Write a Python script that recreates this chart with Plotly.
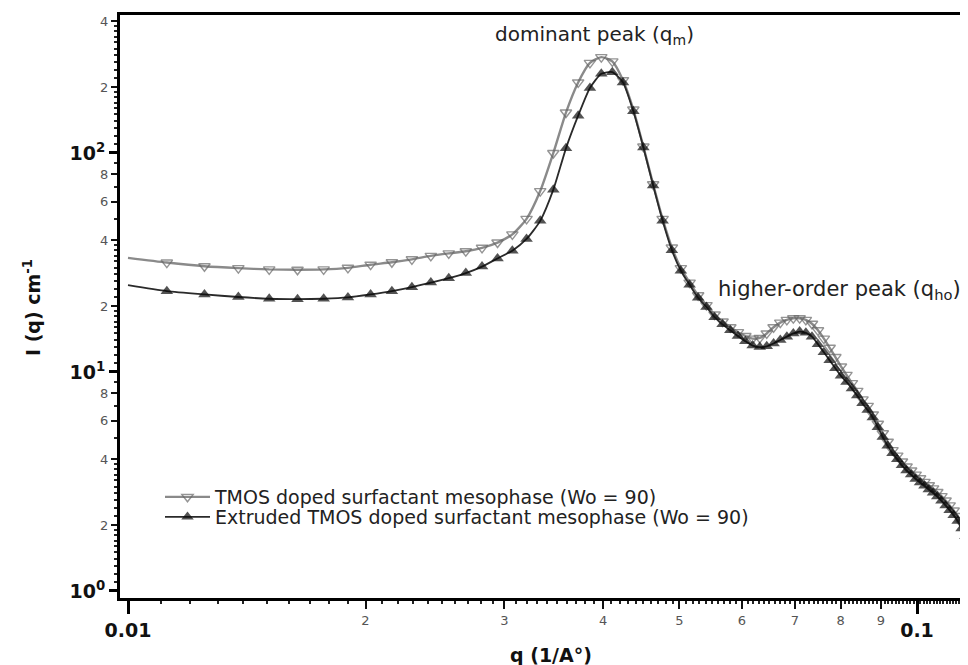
import plotly.graph_objects as go

# ---------------- data ----------------
q = [0.0100,
     0.0112, 0.0125, 0.0138, 0.0151, 0.0164, 0.0177, 0.0190, 0.0203, 0.0216, 0.0229,
     0.0242, 0.0255, 0.0268, 0.0281, 0.0294, 0.0307, 0.0320, 0.0333, 0.0346, 0.0359,
     0.0372, 0.0385, 0.0398, 0.0411, 0.0424, 0.0437, 0.0450, 0.0463, 0.0476, 0.0489,
     0.0502, 0.0515, 0.0528, 0.0541, 0.0554, 0.0567, 0.0580, 0.0593, 0.0606, 0.0619,
     0.0632, 0.0645, 0.0658, 0.0671, 0.0684, 0.0697, 0.0710, 0.0723, 0.0736, 0.0749,
     0.0762, 0.0775, 0.0788, 0.0801, 0.0814, 0.0827, 0.0840, 0.0853, 0.0866, 0.0879,
     0.0892, 0.0905, 0.0918, 0.0931, 0.0944, 0.0957, 0.0970, 0.0983, 0.0996, 0.1009,
     0.1022, 0.1035, 0.1048, 0.1061, 0.1074, 0.1087, 0.1100, 0.1113, 0.1126, 0.1139,
     0.1152]

I_tmos = [33.2,
          31.6, 30.4, 29.8, 29.4, 29.3, 29.4, 29.9, 30.9, 31.7, 32.7,
          33.9, 34.8, 35.6, 36.9, 39.0, 42.5, 50.0, 67.0, 100, 153,
          210, 258, 274, 262, 215, 158, 107, 72, 50, 37,
          29.8, 25.6, 22.4, 20.2, 18.3, 17.0, 16.0, 15.2, 14.6, 14.2,
          14.3, 15.0, 16.0, 16.8, 17.3, 17.6, 17.6, 17.3, 16.6, 15.5,
          14.2, 12.9, 11.7, 10.6, 9.7, 8.9, 8.2, 7.5, 7.0, 6.4,
          5.8, 5.25, 4.8, 4.4, 4.15, 3.9, 3.7, 3.55, 3.4, 3.27,
          3.15, 3.04, 2.94, 2.83, 2.71, 2.59, 2.46, 2.33, 2.2, 2.04,
          1.9]

I_extruded = [24.9,
              23.4, 22.6, 22.0, 21.6, 21.5, 21.6, 21.9, 22.6, 23.4, 24.4,
              25.6, 26.8, 28.3, 30.3, 33.0, 35.8, 40.5, 49.0, 68.0, 105,
              148, 198, 230, 234, 210, 155, 106, 71, 49, 36,
              29.0, 25.0, 21.8, 19.8, 17.8, 16.5, 15.5, 14.6, 13.8, 13.2,
              13.0, 13.1, 13.5, 14.0, 14.5, 15.0, 15.3, 15.1, 14.5, 13.4,
              12.3, 11.3, 10.4, 9.6, 9.0, 8.4, 7.8, 7.2, 6.7, 6.2,
              5.6, 5.05, 4.6, 4.25, 4.0, 3.75, 3.55, 3.4, 3.25, 3.13,
              3.02, 2.91, 2.81, 2.7, 2.58, 2.46, 2.34, 2.22, 2.09, 1.93,
              1.78]

series_names = ["TMOS doped surfactant mesophase (Wo = 90)",
                "Extruded TMOS doped surfactant mesophase (Wo = 90)"]

x_digit_ticks = [0.02, 0.03, 0.04, 0.05, 0.06, 0.07, 0.08, 0.09]
x_digit_labels = ["2", "3", "4", "5", "6", "7", "8", "9"]
x_decade_ticks = [0.01, 0.1]
x_decade_labels = ["0.01", "0.1"]

y_digit_ticks = [2, 4, 6, 8, 20, 40, 60, 80, 200, 400]
y_digit_labels = ["2", "4", "6", "8", "2", "4", "6", "8", "2", "4"]
y_decade_ticks = [1, 10, 100]
y_decade_labels = ["10<sup>0</sup>", "10<sup>1</sup>", "10<sup>2</sup>"]

FONT = "DejaVu Sans, Verdana, sans-serif"

# page (browser) pixel -> paper coordinates; the page body adds an 8px offset
PLOT_L, PLOT_R, PLOT_T, PLOT_B = 120, 976, 15, 598
def px(xp):
    return (xp - PLOT_L) / (PLOT_R - PLOT_L)
def py(yp):
    return (PLOT_B - yp) / (PLOT_B - PLOT_T)

n = len(q)
marker_sizes_open = [0] + [10] * (n - 1)
marker_sizes_fill = [0] + [11] * (n - 1)

x_minor = [k / 1000 for k in range(10, 120)]
y_minor = []
for dec in (1, 10, 100):
    y_minor += [dec * (1 + k / 10) for k in range(1, 10)]
    y_minor += [dec * (2 + k / 5) for k in range(1, 10)]
    y_minor += [dec * v for v in (5, 7, 9)]

fig = go.Figure()

fig.add_trace(go.Scatter(
    x=q, y=I_tmos, name=series_names[0], mode="lines+markers", legend="legend",
    line=dict(color="#8a8a8a", width=2.4, shape="spline", smoothing=0.6),
    marker=dict(symbol="triangle-down-open", size=marker_sizes_open,
                color="#666666", line=dict(width=1.4, color="#666666")),
))
fig.add_trace(go.Scatter(
    x=q, y=I_extruded, name=series_names[1], mode="lines+markers", legend="legend2",
    line=dict(color="#2a2a2a", width=1.8, shape="spline", smoothing=0.6),
    marker=dict(symbol="triangle-up", size=marker_sizes_fill, color="#0a0a0a",
                line=dict(width=0)),
))
# invisible helper traces for the decade tick axes
fig.add_trace(go.Scatter(x=[0.05], y=[10], xaxis="x2", yaxis="y", mode="markers",
                         marker=dict(opacity=0), showlegend=False, hoverinfo="skip"))
fig.add_trace(go.Scatter(x=[0.05], y=[10], xaxis="x", yaxis="y2", mode="markers",
                         marker=dict(opacity=0), showlegend=False, hoverinfo="skip"))

xrange = [-2.01014, -0.92522]
yrange = [-0.032, 2.6301]
fig.update_layout(
    width=968, height=665,
    margin=dict(l=112, r=0, t=7, b=75, autoexpand=False),
    paper_bgcolor="white", plot_bgcolor="white",
    font=dict(family=FONT, color="#111"),
    showlegend=True,
    legend=dict(x=px(160), y=py(497), xanchor="left", yanchor="middle",
                bgcolor="rgba(0,0,0,0)", font=dict(size=19, color="#222"),
                itemwidth=45),
    legend2=dict(x=px(160), y=py(517), xanchor="left", yanchor="middle",
                 bgcolor="rgba(0,0,0,0)", font=dict(size=19, color="#222"),
                 itemwidth=45),
    xaxis=dict(type="log", range=xrange, showgrid=False, zeroline=False,
               showline=True, linecolor="#000", linewidth=3, mirror=True,
               ticks="outside", ticklen=8, tickwidth=2, tickcolor="#111",
               tickmode="array", tickvals=x_digit_ticks, ticktext=x_digit_labels,
               tickfont=dict(size=13, color="#555"), automargin=False,
               minor=dict(tickmode="array", tickvals=x_minor, ticks="outside",
                          ticklen=3, tickwidth=1.5, tickcolor="#222")),
    xaxis2=dict(type="log", range=xrange, overlaying="x", side="bottom",
                anchor="y", showgrid=False, zeroline=False, showline=False,
                ticks="outside", ticklen=15, tickwidth=2.5, tickcolor="#000",
                tickmode="array", tickvals=x_decade_ticks,
                ticktext=["<b>" + t + "</b>" for t in x_decade_labels],
                tickfont=dict(size=19, color="#111"), automargin=False),
    yaxis=dict(type="log", range=yrange, showgrid=False, zeroline=False,
               showline=True, linecolor="#000", linewidth=3,
               ticks="outside", ticklen=6, tickwidth=2, tickcolor="#111",
               tickmode="array", tickvals=y_digit_ticks, ticktext=y_digit_labels,
               tickfont=dict(size=13, color="#555"), automargin=False,
               minor=dict(tickmode="array", tickvals=y_minor, ticks="outside",
                          ticklen=3, tickwidth=1.5, tickcolor="#222")),
    yaxis2=dict(type="log", range=yrange, overlaying="y", side="left",
                anchor="x", showgrid=False, zeroline=False, showline=False,
                ticks="outside", ticklen=10, tickwidth=2.5, tickcolor="#000",
                tickmode="array", tickvals=y_decade_ticks,
                ticktext=["<b>" + t + "</b>" for t in y_decade_labels],
                tickfont=dict(size=19, color="#111"), automargin=False),
    annotations=[
        dict(text="dominant peak (q<sub>m</sub>)", xref="paper", yref="paper",
             x=px(594), y=py(35), showarrow=False, xanchor="center",
             yanchor="middle", font=dict(size=20, color="#222")),
        dict(text="higher-order peak (q<sub>ho</sub>)", xref="paper", yref="paper",
             x=px(716), y=py(290), showarrow=False,
             xanchor="left", yanchor="middle", font=dict(size=21, color="#222")),
        dict(text="<b>q (1/A°)</b>", xref="paper", yref="paper",
             x=px(551), y=py(655), showarrow=False,
             xanchor="center", yanchor="middle", font=dict(size=19, color="#111")),
        dict(text="<b>I (q) cm<sup>-1</sup></b>", xref="paper", yref="paper",
             x=px(32), y=py(308), showarrow=False,
             textangle=-90, xanchor="center", yanchor="middle",
             font=dict(size=19, color="#111")),
    ],
)

fig.write_html("out.html")
